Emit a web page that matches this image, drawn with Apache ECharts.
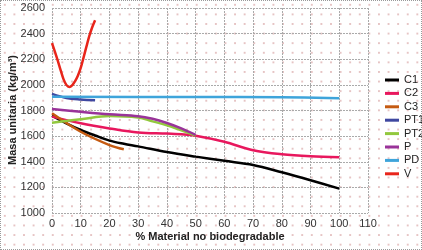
<!DOCTYPE html>
<html>
<head>
<meta charset="utf-8">
<script src="https://cdn.jsdelivr.net/npm/echarts@6/dist/echarts.min.js"></script>
<style>
  html, body { margin: 0; padding: 0; background: #fff; }
  #wrap {
    position: relative;
    width: 422px;
    height: 250px;
    background-color: #fff;
    background-image: radial-gradient(circle, #e6c4c4 0.7px, transparent 1.1px);
    background-size: 9.6px 9.6px;
  }
  #wrap::after {
    content: "";
    position: absolute;
    left: 0; top: 0; right: 0; bottom: 0;
    border: 1px dotted #999;
    pointer-events: none;
  }
  #chart { width: 422px; height: 250px; }
</style>
</head>
<body>
<div id="wrap"><div id="chart"></div></div>
<script>
// Masa unitaria vs % material no biodegradable
const seriesNames = ["C1", "C2", "C3", "PT1", "PT2", "P", "PD", "V"];
const seriesColors = ["#000000", "#e8175d", "#c55a11", "#3f48a0", "#92c83e", "#993399", "#3fa4da", "#e8251b"];
const xTitle = "% Material no biodegradable";
const yTitle = "Masa unitaria (kg/m³)";

const c1 = [[0, 1760], [5, 1700], [10, 1648], [15, 1605], [20, 1565], [25, 1540], [30, 1520], [40, 1476], [50, 1440], [60, 1407], [70, 1375], [80, 1318], [90, 1256], [100, 1190]];
const c2 = [[0, 1752], [10, 1700], [20, 1660], [30, 1628], [40, 1620], [45, 1614], [50, 1603], [60, 1556], [70, 1490], [80, 1458], [90, 1442], [100, 1435]];
const c3 = [[0, 1778], [10, 1634], [20, 1530], [25, 1497]];
const pt1 = [[0, 1930], [5, 1898], [10, 1886], [15, 1880]];
const pt2 = [[0, 1705], [10, 1732], [20, 1757], [30, 1745], [35, 1715], [40, 1685], [45, 1645], [50, 1605]];
const p = [[0, 1812], [10, 1790], [20, 1770], [30, 1755], [35, 1735], [40, 1702], [45, 1660], [50, 1610]];
const pd = [[0, 1908], [50, 1905], [80, 1903], [100, 1896]];
const v = [[0, 2326], [1, 2260], [2, 2190], [3, 2115], [4, 2045], [5, 2000], [6, 1984], [7, 1996], [8, 2028], [9, 2072], [10, 2132], [11, 2215], [12, 2300], [13, 2382], [14, 2450], [15, 2505]];
const seriesData = [c1, c2, c3, pt1, pt2, p, pd, v];

const font = "'Liberation Sans', Arial, sans-serif";
const gridLine = { show: true, lineStyle: { color: "#aaa", type: [2, 1], width: 1 } };

const option = {
  animation: false,
  textStyle: { fontFamily: font },
  grid: { left: 52, right: 54, top: 8, bottom: 37, outerBoundsMode: "none", containLabel: false },
  // axis titles as plain text so they sit where the original has them
  graphic: [
    {
      type: "text",
      x: 13,
      y: 110,
      rotation: Math.PI / 2,
      style: { text: yTitle, font: "bold 11px " + font, fill: "#222", textAlign: "center", textVerticalAlign: "middle" }
    },
    {
      type: "text",
      x: 210,
      y: 237,
      style: { text: xTitle, font: "bold 11px " + font, fill: "#222", textAlign: "center", textVerticalAlign: "middle" }
    }
  ],
  legend: {
    orient: "vertical",
    left: 380,
    top: 69,
    width: 42,
    itemWidth: 14,
    itemHeight: 3,
    itemGap: 1.4,
    icon: "rect",
    textStyle: { fontSize: 11, color: "#222", lineHeight: 12, fontFamily: font, overflow: "none" },
    data: seriesNames
  },
  xAxis: {
    type: "value",
    min: 0,
    max: 110,
    interval: 10,
    axisLine: { show: false },
    axisTick: { show: false },
    axisLabel: { fontSize: 11, color: "#333", margin: 5, fontFamily: font },
    splitLine: gridLine
  },
  yAxis: {
    type: "value",
    min: 1000,
    max: 2600,
    interval: 200,
    axisLine: { show: false },
    axisTick: { show: false },
    axisLabel: { fontSize: 11, color: "#333", margin: 7, fontFamily: font, formatter: (val) => String(val) },
    splitLine: gridLine
  },
  series: seriesNames.map((name, i) => ({
    name: name,
    type: "line",
    data: seriesData[i],
    smooth: 0.35,
    symbol: "none",
    color: seriesColors[i],
    lineStyle: { width: 2.5, color: seriesColors[i] }
  }))
};

const myChart = echarts.init(document.getElementById("chart"));
myChart.setOption(option);
</script>
</body>
</html>
